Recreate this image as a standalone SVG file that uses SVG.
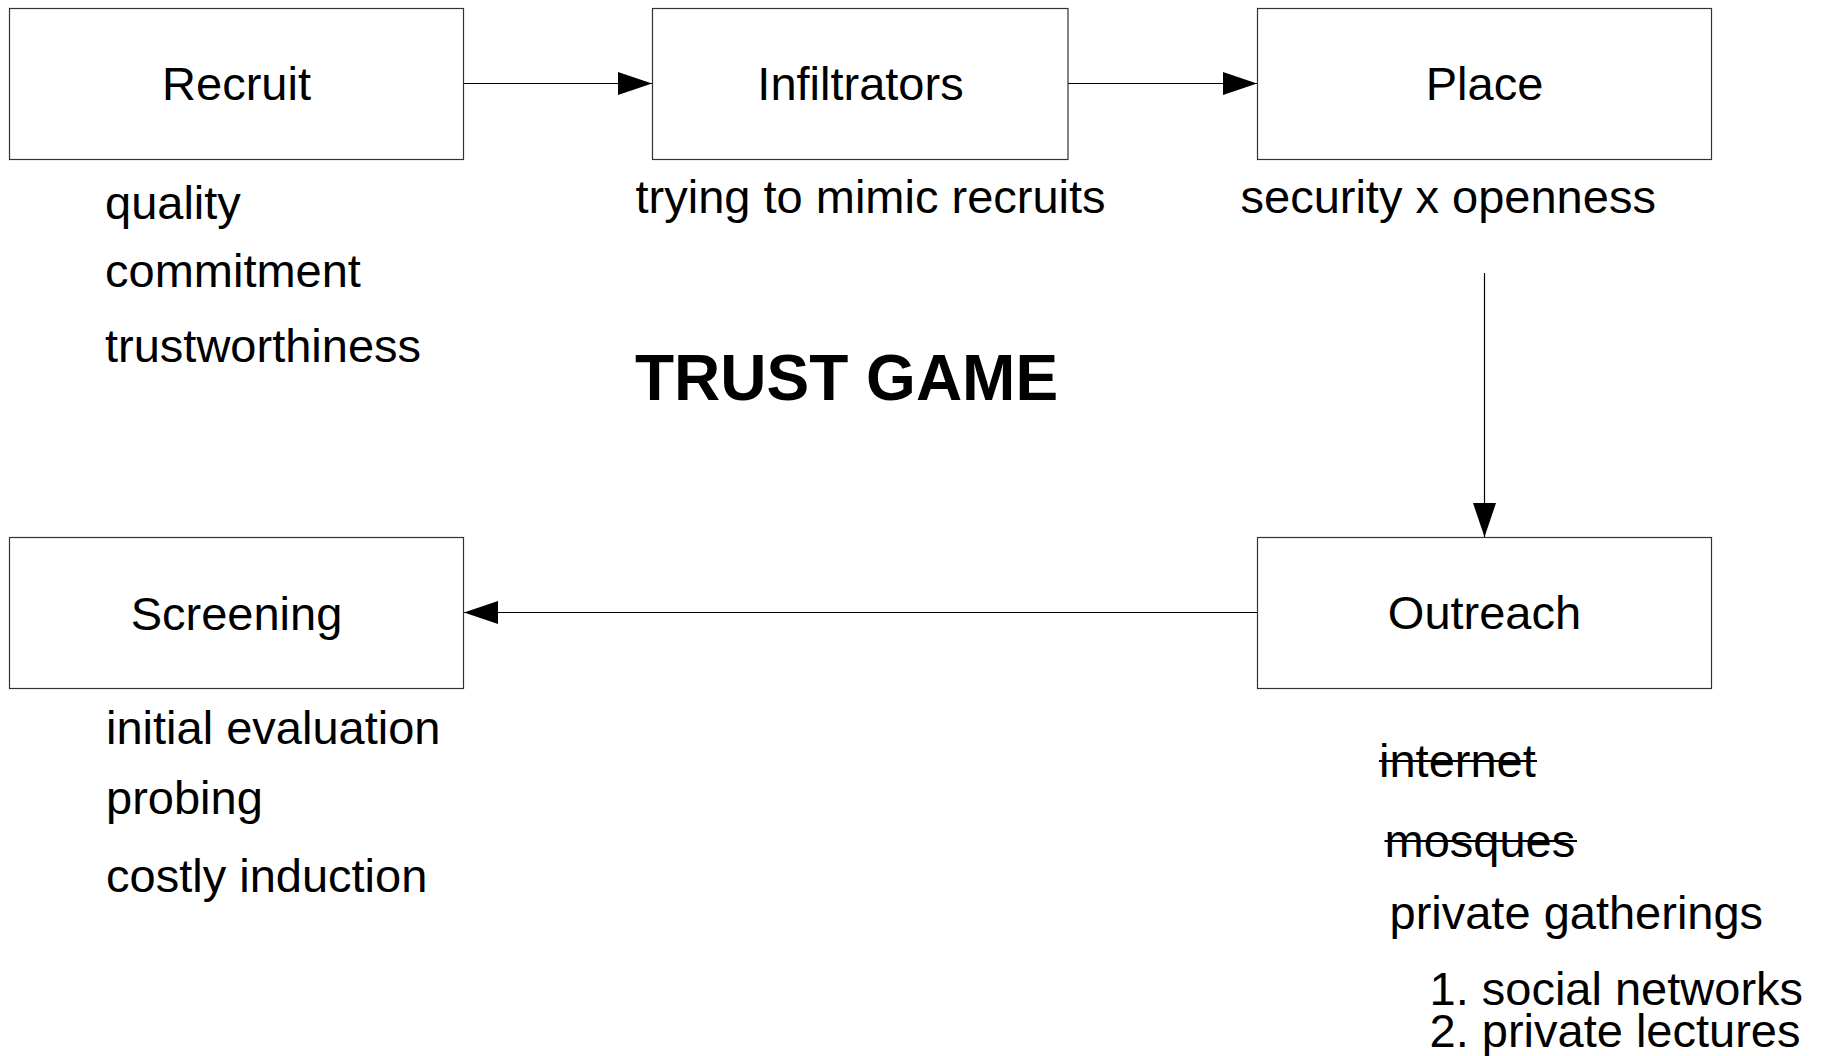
<svg xmlns="http://www.w3.org/2000/svg" width="1829" height="1056" viewBox="0 0 1829 1056">
<style>
.box{fill:#fff;stroke:#333;stroke-width:1.2}
.lbl{font-family:"Liberation Sans",Arial,sans-serif;font-size:47px;fill:#000}
.c{text-anchor:middle}
.strike{stroke:#000;stroke-width:2}
.conn{stroke:#000;stroke-width:1.2;fill:none}
</style>
<defs>
<marker id="arr" markerUnits="userSpaceOnUse" markerWidth="36" markerHeight="24" refX="34" refY="11.5" orient="auto">
<path d="M0,0 L34,11.5 L0,23 z" fill="#000"/>
</marker>
</defs>
<rect width="1829" height="1056" fill="#fff"/>
<g id="connectors">
<line class="conn" x1="463" y1="83.5" x2="652" y2="83.5" marker-end="url(#arr)"/>
<line class="conn" x1="1068" y1="83.5" x2="1257" y2="83.5" marker-end="url(#arr)"/>
<line class="conn" x1="1484.5" y1="273" x2="1484.5" y2="537" marker-end="url(#arr)"/>
<line class="conn" x1="1257" y1="612.5" x2="464" y2="612.5" marker-end="url(#arr)"/>
</g>
<g id="recruit">
<rect class="box" x="9.5" y="8.5" width="454" height="151"/>
<text class="lbl c" x="236.5" y="99.5">Recruit</text>
<text class="lbl" x="105" y="219">quality</text>
<text class="lbl" x="105" y="287">commitment</text>
<text class="lbl" x="105" y="361.5">trustworthiness</text>
</g>
<g id="infiltrators">
<rect class="box" x="652.5" y="8.5" width="415.5" height="151"/>
<text class="lbl c" x="860.5" y="99.5">Infiltrators</text>
<text class="lbl" x="635.5" y="213">trying to mimic recruits</text>
</g>
<g id="place">
<rect class="box" x="1257.5" y="8.5" width="454" height="151"/>
<text class="lbl c" x="1484.5" y="99.5">Place</text>
<text class="lbl" x="1240.5" y="213">security x openness</text>
</g>
<g id="outreach">
<rect class="box" x="1257.5" y="537.5" width="454" height="151"/>
<text class="lbl c" x="1484.5" y="629">Outreach</text>
<text class="lbl" x="1379" y="777">internet</text>
<line class="strike" x1="1379" y1="761" x2="1537" y2="761"/>
<text class="lbl" x="1384.5" y="857">mosques</text>
<line class="strike" x1="1384.5" y1="841" x2="1577" y2="841"/>
<text class="lbl" x="1389.5" y="928.5">private gatherings</text>
<text class="lbl" x="1429.5" y="1005">1. social networks</text>
<text class="lbl" x="1429.5" y="1046.5">2. private lectures</text>
</g>
<g id="screening">
<rect class="box" x="9.5" y="537.5" width="454" height="151"/>
<text class="lbl c" x="236.5" y="629.5">Screening</text>
<text class="lbl" x="106" y="743.5">initial evaluation</text>
<text class="lbl" x="106" y="813.5">probing</text>
<text class="lbl" x="106" y="891.5">costly induction</text>
</g>
<g id="title">
<text x="635" y="400" font-family="'Liberation Sans',Arial,sans-serif" font-size="64" font-weight="bold" fill="#000">TRUST GAME</text>
</g>
</svg>
